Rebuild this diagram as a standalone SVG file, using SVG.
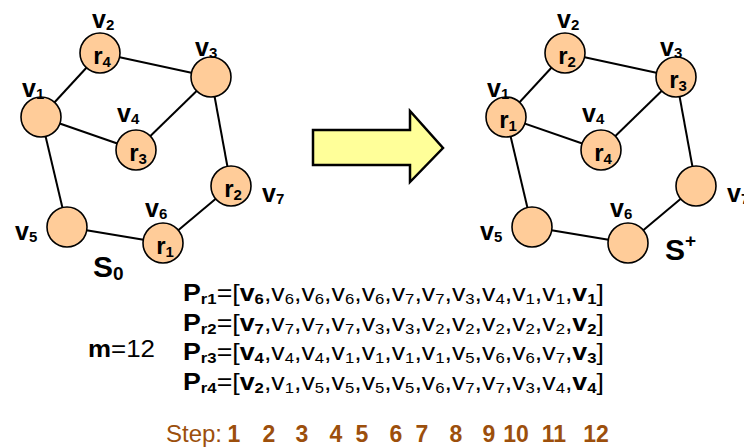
<svg xmlns="http://www.w3.org/2000/svg" width="744" height="448" viewBox="0 0 744 448">
  <style>
    text { font-family: "Liberation Sans", Arial, sans-serif; fill: #000; }
    .node circle { fill: #FFCC99; stroke: #000; stroke-width: 1.6; }
    .edges line { stroke: #000; stroke-width: 2; }
    .vl { font-size: 25px; font-weight: bold; }
    .rl { font-size: 24px; font-weight: bold; text-anchor: middle; }
    .sub { font-size: 15px; }
    .big { font-size: 30px; font-weight: bold; }
    .big .sub { font-size: 19px; }
    .seq { font-size: 24px; }
    .b { font-weight: bold; }
    .step { font-size: 24px; fill: #9C4F0C; }
    .num { font-size: 23px; font-weight: bold; fill: #9C4F0C; text-anchor: middle; }
  </style>

  <!-- initial configuration S0 -->
  <g id="graph-s0">
    <g class="edges">
      <line x1="41" y1="117" x2="100" y2="53"/>
      <line x1="100" y1="53" x2="211" y2="77"/>
      <line x1="41" y1="117" x2="136" y2="150"/>
      <line x1="136" y1="150" x2="211" y2="77"/>
      <line x1="211" y1="77" x2="231" y2="186"/>
      <line x1="231" y1="186" x2="163" y2="243"/>
      <line x1="163" y1="243" x2="67" y2="227"/>
      <line x1="67" y1="227" x2="41" y2="117"/>
    </g>
    <g id="s0-v1" class="node"><circle cx="41" cy="117" r="20"/>
      <text class="vl" x="22" y="97">v<tspan class="sub" dy="2">1</tspan></text></g>
    <g id="s0-v2" class="node"><circle cx="100" cy="53" r="20"/>
      <text class="vl" x="92" y="28">v<tspan class="sub" dy="2">2</tspan></text>
      <text class="rl" x="102" y="64">r<tspan class="sub" dy="3">4</tspan></text></g>
    <g id="s0-v3" class="node"><circle cx="211" cy="77" r="20"/>
      <text class="vl" x="195" y="56">v<tspan class="sub" dy="2">3</tspan></text></g>
    <g id="s0-v4" class="node"><circle cx="136" cy="150" r="20"/>
      <text class="vl" x="117" y="122">v<tspan class="sub" dy="2">4</tspan></text>
      <text class="rl" x="138" y="161">r<tspan class="sub" dy="3">3</tspan></text></g>
    <g id="s0-v5" class="node"><circle cx="67" cy="227" r="20"/>
      <text class="vl" x="15" y="240">v<tspan class="sub" dy="2">5</tspan></text></g>
    <g id="s0-v6" class="node"><circle cx="163" cy="243" r="20"/>
      <text class="vl" x="145" y="217">v<tspan class="sub" dy="2">6</tspan></text>
      <text class="rl" x="165" y="254">r<tspan class="sub" dy="3">1</tspan></text></g>
    <g id="s0-v7" class="node"><circle cx="231" cy="186" r="20"/>
      <text class="vl" x="262" y="202">v<tspan class="sub" dy="2">7</tspan></text>
      <text class="rl" x="233" y="197">r<tspan class="sub" dy="3">2</tspan></text></g>
    <text class="big" x="93" y="277">S<tspan class="sub" dy="3">0</tspan></text>
  </g>

  <!-- transition arrow -->
  <polygon id="arrow" points="313,130 410,130 410,111 443,148 410,182 410,165 313,165"
           fill="#FFFF99" stroke="#000" stroke-width="2.5" stroke-linejoin="miter"/>

  <!-- final configuration S+ -->
  <g id="graph-splus" transform="translate(465,0)">
    <g class="edges">
      <line x1="41" y1="117" x2="100" y2="53"/>
      <line x1="100" y1="53" x2="211" y2="77"/>
      <line x1="41" y1="117" x2="136" y2="150"/>
      <line x1="136" y1="150" x2="211" y2="77"/>
      <line x1="211" y1="77" x2="231" y2="186"/>
      <line x1="231" y1="186" x2="163" y2="243"/>
      <line x1="163" y1="243" x2="67" y2="227"/>
      <line x1="67" y1="227" x2="41" y2="117"/>
    </g>
    <g id="sp-v1" class="node"><circle cx="41" cy="117" r="20"/>
      <text class="vl" x="22" y="97">v<tspan class="sub" dy="2">1</tspan></text>
      <text class="rl" x="43" y="128">r<tspan class="sub" dy="3">1</tspan></text></g>
    <g id="sp-v2" class="node"><circle cx="100" cy="53" r="20"/>
      <text class="vl" x="92" y="28">v<tspan class="sub" dy="2">2</tspan></text>
      <text class="rl" x="102" y="64">r<tspan class="sub" dy="3">2</tspan></text></g>
    <g id="sp-v3" class="node"><circle cx="211" cy="77" r="20"/>
      <text class="vl" x="195" y="56">v<tspan class="sub" dy="2">3</tspan></text>
      <text class="rl" x="213" y="88">r<tspan class="sub" dy="3">3</tspan></text></g>
    <g id="sp-v4" class="node"><circle cx="136" cy="150" r="20"/>
      <text class="vl" x="117" y="122">v<tspan class="sub" dy="2">4</tspan></text>
      <text class="rl" x="138" y="161">r<tspan class="sub" dy="3">4</tspan></text></g>
    <g id="sp-v5" class="node"><circle cx="67" cy="227" r="20"/>
      <text class="vl" x="15" y="240">v<tspan class="sub" dy="2">5</tspan></text></g>
    <g id="sp-v6" class="node"><circle cx="163" cy="243" r="20"/>
      <text class="vl" x="145" y="217">v<tspan class="sub" dy="2">6</tspan></text></g>
    <g id="sp-v7" class="node"><circle cx="231" cy="186" r="20"/>
      <text class="vl" x="262" y="202">v<tspan class="sub" dy="2">7</tspan></text></g>
    <text class="big" x="200" y="260">S<tspan class="sub" dy="-13">+</tspan></text>
  </g>

  <!-- paths of the robots -->
  <g id="paths">
    <text class="seq" x="88" y="357" textLength="67" lengthAdjust="spacingAndGlyphs"><tspan class="b">m</tspan>=12</text>
    <text class="seq" x="183" y="301" textLength="421" lengthAdjust="spacingAndGlyphs"><tspan class="b">P</tspan><tspan class="b sub" dy="3">r1</tspan><tspan dy="-3">=[</tspan><tspan class="b">v</tspan><tspan class="b sub" dy="3">6</tspan><tspan dy="-3">,v</tspan><tspan class="sub" dy="3">6</tspan><tspan dy="-3">,v</tspan><tspan class="sub" dy="3">6</tspan><tspan dy="-3">,v</tspan><tspan class="sub" dy="3">6</tspan><tspan dy="-3">,v</tspan><tspan class="sub" dy="3">6</tspan><tspan dy="-3">,v</tspan><tspan class="sub" dy="3">7</tspan><tspan dy="-3">,v</tspan><tspan class="sub" dy="3">7</tspan><tspan dy="-3">,v</tspan><tspan class="sub" dy="3">3</tspan><tspan dy="-3">,v</tspan><tspan class="sub" dy="3">4</tspan><tspan dy="-3">,v</tspan><tspan class="sub" dy="3">1</tspan><tspan dy="-3">,v</tspan><tspan class="sub" dy="3">1</tspan><tspan dy="-3">,</tspan><tspan class="b">v</tspan><tspan class="b sub" dy="3">1</tspan><tspan dy="-3">]</tspan></text>
    <text class="seq" x="183" y="330.5" textLength="421" lengthAdjust="spacingAndGlyphs"><tspan class="b">P</tspan><tspan class="b sub" dy="3">r2</tspan><tspan dy="-3">=[</tspan><tspan class="b">v</tspan><tspan class="b sub" dy="3">7</tspan><tspan dy="-3">,v</tspan><tspan class="sub" dy="3">7</tspan><tspan dy="-3">,v</tspan><tspan class="sub" dy="3">7</tspan><tspan dy="-3">,v</tspan><tspan class="sub" dy="3">7</tspan><tspan dy="-3">,v</tspan><tspan class="sub" dy="3">3</tspan><tspan dy="-3">,v</tspan><tspan class="sub" dy="3">3</tspan><tspan dy="-3">,v</tspan><tspan class="sub" dy="3">2</tspan><tspan dy="-3">,v</tspan><tspan class="sub" dy="3">2</tspan><tspan dy="-3">,v</tspan><tspan class="sub" dy="3">2</tspan><tspan dy="-3">,v</tspan><tspan class="sub" dy="3">2</tspan><tspan dy="-3">,v</tspan><tspan class="sub" dy="3">2</tspan><tspan dy="-3">,</tspan><tspan class="b">v</tspan><tspan class="b sub" dy="3">2</tspan><tspan dy="-3">]</tspan></text>
    <text class="seq" x="183" y="360" textLength="421" lengthAdjust="spacingAndGlyphs"><tspan class="b">P</tspan><tspan class="b sub" dy="3">r3</tspan><tspan dy="-3">=[</tspan><tspan class="b">v</tspan><tspan class="b sub" dy="3">4</tspan><tspan dy="-3">,v</tspan><tspan class="sub" dy="3">4</tspan><tspan dy="-3">,v</tspan><tspan class="sub" dy="3">4</tspan><tspan dy="-3">,v</tspan><tspan class="sub" dy="3">1</tspan><tspan dy="-3">,v</tspan><tspan class="sub" dy="3">1</tspan><tspan dy="-3">,v</tspan><tspan class="sub" dy="3">1</tspan><tspan dy="-3">,v</tspan><tspan class="sub" dy="3">1</tspan><tspan dy="-3">,v</tspan><tspan class="sub" dy="3">5</tspan><tspan dy="-3">,v</tspan><tspan class="sub" dy="3">6</tspan><tspan dy="-3">,v</tspan><tspan class="sub" dy="3">6</tspan><tspan dy="-3">,v</tspan><tspan class="sub" dy="3">7</tspan><tspan dy="-3">,</tspan><tspan class="b">v</tspan><tspan class="b sub" dy="3">3</tspan><tspan dy="-3">]</tspan></text>
    <text class="seq" x="183" y="389.5" textLength="421" lengthAdjust="spacingAndGlyphs"><tspan class="b">P</tspan><tspan class="b sub" dy="3">r4</tspan><tspan dy="-3">=[</tspan><tspan class="b">v</tspan><tspan class="b sub" dy="3">2</tspan><tspan dy="-3">,v</tspan><tspan class="sub" dy="3">1</tspan><tspan dy="-3">,v</tspan><tspan class="sub" dy="3">5</tspan><tspan dy="-3">,v</tspan><tspan class="sub" dy="3">5</tspan><tspan dy="-3">,v</tspan><tspan class="sub" dy="3">5</tspan><tspan dy="-3">,v</tspan><tspan class="sub" dy="3">5</tspan><tspan dy="-3">,v</tspan><tspan class="sub" dy="3">6</tspan><tspan dy="-3">,v</tspan><tspan class="sub" dy="3">7</tspan><tspan dy="-3">,v</tspan><tspan class="sub" dy="3">7</tspan><tspan dy="-3">,v</tspan><tspan class="sub" dy="3">3</tspan><tspan dy="-3">,v</tspan><tspan class="sub" dy="3">4</tspan><tspan dy="-3">,</tspan><tspan class="b">v</tspan><tspan class="b sub" dy="3">4</tspan><tspan dy="-3">]</tspan></text>
  </g>

  <!-- step ruler -->
  <g id="steps">
    <text class="step" x="166" y="442">Step:</text>
    <text class="num" x="234" y="442">1</text>
    <text class="num" x="269" y="442">2</text>
    <text class="num" x="302" y="442">3</text>
    <text class="num" x="336" y="442">4</text>
    <text class="num" x="362" y="442">5</text>
    <text class="num" x="396" y="442">6</text>
    <text class="num" x="422" y="442">7</text>
    <text class="num" x="456" y="442">8</text>
    <text class="num" x="489" y="442">9</text>
    <text class="num" x="516" y="442">10</text>
    <text class="num" x="554" y="442">11</text>
    <text class="num" x="596" y="442">12</text>
  </g>
</svg>
